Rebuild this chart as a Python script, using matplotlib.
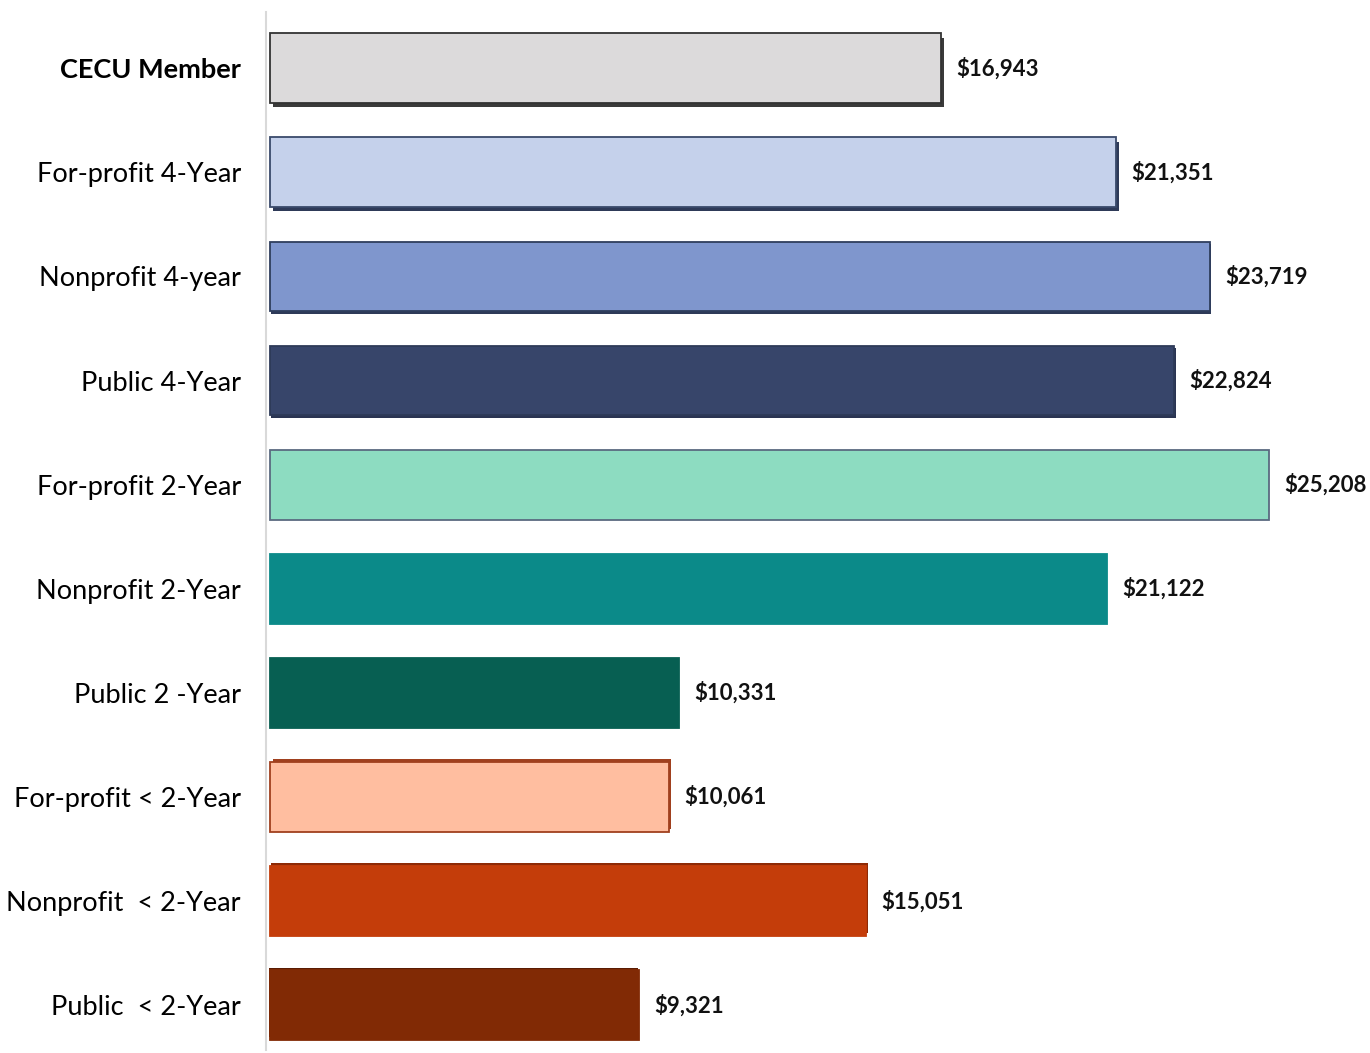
import matplotlib.pyplot as plt
import matplotlib.patheffects as pe
import numpy as np

categories = ['CECU Member', 'For-profit 4-Year', 'Nonprofit 4-year', 'Public 4-Year',
              'For-profit 2-Year', 'Nonprofit 2-Year', 'Public 2 -Year',
              'For-profit < 2-Year', 'Nonprofit  < 2-Year', 'Public  < 2-Year']
values = [16943, 21351, 23719, 22824, 25208, 21122, 10331, 10061, 15051, 9321]
labels = ['$16,943', '$21,351', '$23,719', '$22,824', '$25,208',
          '$21,122', '$10,331', '$10,061', '$15,051', '$9,321']

colors = ['#DCDADB', '#C5D1EB', '#7F96CD', '#37456A', '#8DDCC1',
          '#0B8A89', '#075F52', '#FFBEA0', '#C43D0A', '#812A05']
edges = ['#333333', '#3A4A6B', '#2F3E5D', '#2E3A58', '#5A6A80',
         '#0B8A89', '#075F52', '#A0401E', '#C43D0A', '#812A05']
# shadow offsets in points (dx, dy), None = flat
shadows = [(2, -3), (2, -3), (1, -2), (1, -2), None, None, None,
           (2, 2), (1, 2), (-1, 2)]
shadow_col = ['#3A3A3A', '#2E3A58', '#2E3A58', '#2A3452', None, None, None,
              '#A0401E', '#8E2A06', '#5A1C03']

plt.rcParams['font.family'] = ['Lato', 'DejaVu Sans']

fig = plt.figure(figsize=(13.7, 10.53), dpi=100)
ax = fig.add_axes([266 / 1370, 3 / 1053, 1104 / 1370, 1038 / 1053])

y = np.arange(len(categories))
bars = ax.barh(y, values, height=0.67, color=colors, edgecolor=edges, linewidth=1.3)
for b, sh, sc in zip(bars, shadows, shadow_col):
    if sh is not None:
        b.set_path_effects([pe.SimplePatchShadow(offset=sh, shadow_rgbFace=sc, alpha=1.0),
                            pe.Normal()])

for yi, v, lab in zip(y, values, labels):
    ax.annotate(lab, (v, yi), xytext=(11, 0), textcoords='offset points',
                va='center', ha='left', fontsize=16, fontweight='bold', color='#111111')

ax.set_xlim(-100, 27760)
ax.set_ylim(9.43, -0.54)
ax.set_yticks(y)
ax.set_yticklabels(categories, fontsize=19.5)
ax.get_yticklabels()[0].set_fontweight('bold')
ax.tick_params(axis='y', length=0, pad=18)
ax.set_xticks([])
for s in ['top', 'right', 'bottom']:
    ax.spines[s].set_visible(False)
ax.spines['left'].set_color('#D9D9D9')
ax.spines['left'].set_linewidth(1.5)

fig.savefig('out.png', dpi=100)
